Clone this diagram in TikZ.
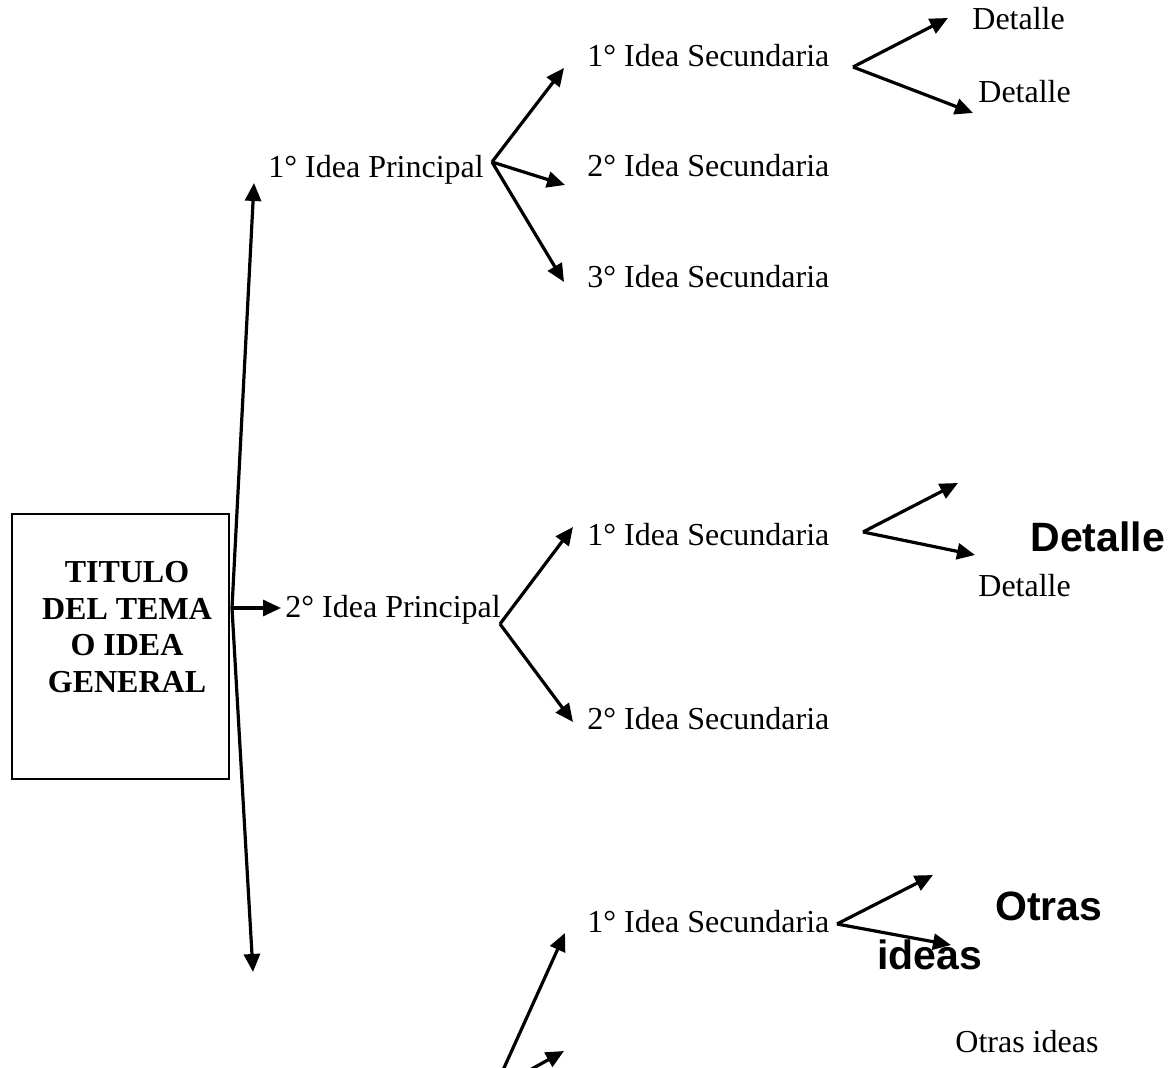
\documentclass[tikz,border=0pt]{standalone}
\usepackage{fontspec}
\setmainfont{Liberation Serif}
\newfontfamily\arialfont{Liberation Sans}
\usetikzlibrary{arrows.meta}
\tikzset{
  arr/.style={line width=1.6pt,-{Triangle[length=9pt,width=8pt]}},
  lbl/.style={inner sep=0pt,anchor=base west,font=\fontsize{16}{19}\selectfont},
  biglbl/.style={inner sep=0pt,anchor=base west,font=\arialfont\bfseries\fontsize{20.5}{24}\selectfont},
  titlebox/.style={draw,line width=0.7pt,inner sep=0pt},
  titletext/.style={inner sep=0pt,align=center,font=\bfseries\fontsize{16}{18.35}\selectfont}
}
\begin{document}
\begin{tikzpicture}[x=0.5pt,y=-0.5pt]
\useasboundingbox (0,0) rectangle (1173,1068);
\clip (0,0) rectangle (1173,1068);
% title box
\node[titlebox,minimum width=108.5pt,minimum height=132.5pt] (box) at (120.5,646.5) {};
\node[titletext] (title) at (127,627) {TITULO\\DEL TEMA\\O IDEA\\GENERAL};
% main ideas
\node[lbl] (p1) at (268,178) {1° Idea Principal};
\node[lbl] (p2) at (285,618) {2° Idea Principal};
% secondary ideas
\node[lbl] (s11) at (587,67) {1° Idea Secundaria};
\node[lbl] (s12) at (587,177) {2° Idea Secundaria};
\node[lbl] (s13) at (587,288) {3° Idea Secundaria};
\node[lbl] (s21) at (587,546) {1° Idea Secundaria};
\node[lbl] (s22) at (587,730) {2° Idea Secundaria};
\node[lbl] (s31) at (587,932) {1° Idea Secundaria};
% details
\node[lbl] (d11) at (972,30) {Detalle};
\node[lbl] (d12) at (978,103) {Detalle};
\node[biglbl] (d21) at (1030,552) {Detalle};
\node[lbl] (d22) at (978,597) {Detalle};
\node[biglbl] (o1) at (995,921) {Otras};
\node[biglbl] (o2) at (877,969) {ideas};
\node[lbl] (o3) at (955,1052) {Otras ideas};
% coordinates of forks and arrow tips
\coordinate (v0) at (232,608);
\coordinate (vtop) at (254,183);
\coordinate (vbot) at (253,972);
\coordinate (p2tip) at (281,608);
\coordinate (f1) at (492,162);
\coordinate (t11) at (564,68);
\coordinate (t12) at (565,185);
\coordinate (t13) at (564,282);
\coordinate (f2) at (500,624);
\coordinate (t21) at (573,527);
\coordinate (t22) at (573,722);
\coordinate (f3) at (494,1090);
\coordinate (t31) at (565,933);
\coordinate (t32) at (564,1051);
\coordinate (g11) at (853,67);
\coordinate (e11) at (948,18);
\coordinate (e12) at (973,113);
\coordinate (g21) at (863,532);
\coordinate (e21) at (958,483);
\coordinate (e22) at (975,555);
\coordinate (g31) at (837,924);
\coordinate (e31) at (933,875);
\coordinate (e32) at (951,945);
% connectors
\draw[arr] (v0) -- (vtop);
\draw[arr] (v0) -- (vbot);
\draw[arr] (v0) -- (p2tip);
\draw[arr] (f1) -- (t11);
\draw[arr] (f1) -- (t12);
\draw[arr] (f1) -- (t13);
\draw[arr] (f2) -- (t21);
\draw[arr] (f2) -- (t22);
\draw[arr] (f3) -- (t31);
\draw[arr] (f3) -- (t32);
\draw[arr] (g11) -- (e11);
\draw[arr] (g11) -- (e12);
\draw[arr] (g21) -- (e21);
\draw[arr] (g21) -- (e22);
\draw[arr] (g31) -- (e31);
\draw[arr] (g31) -- (e32);
\end{tikzpicture}
\end{document}
